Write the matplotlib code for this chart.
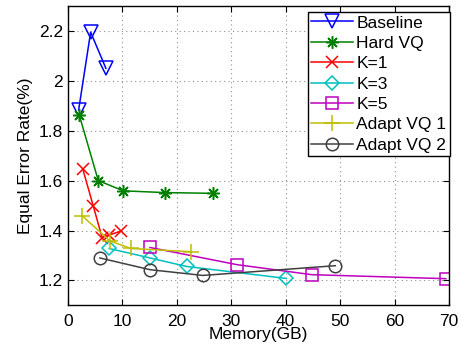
import matplotlib
matplotlib.use("Agg")
from matplotlib import pyplot as plt

# Data (memory in GB, equal error rate in %)
baseline_x = [2.0, 4.2, 7.0]
baseline_y = [1.883, 2.195, 2.05]

hardvq_x = [2.1, 5.6, 10.2, 17.8, 26.6]
hardvq_y = [1.864, 1.600, 1.559, 1.552, 1.549]

k1_x = [2.75, 4.7, 6.3, 7.6, 9.7]
k1_y = [1.647, 1.497, 1.372, 1.382, 1.397]

k3_x = [7.6, 15.1, 21.8, 40.1]
k3_y = [1.328, 1.290, 1.256, 1.208]

k5_x = [15.1, 31.1, 44.8, 69.4]
k5_y = [1.332, 1.263, 1.223, 1.207]

adapt1_x = [2.6, 7.75, 11.6, 22.7]
adapt1_y = [1.460, 1.358, 1.328, 1.315]

adapt2_x = [5.9, 15.1, 24.8, 49.1]
adapt2_y = [1.290, 1.243, 1.220, 1.259]

plt.rcParams['font.family'] = ['Liberation Sans', 'DejaVu Sans']
plt.rcParams['font.size'] = 12.5

fig = plt.figure(figsize=(4.64, 3.49), dpi=100)
ax = fig.add_axes([0.146, 0.125, 0.822, 0.858])

style = dict(linewidth=1.1, markerfacecolor='none', markeredgewidth=1.1)
ax.plot(baseline_x, baseline_y, color='#0000ff', marker='v', markersize=10, label='Baseline', **style)
ax.plot(hardvq_x, hardvq_y, color='#008000', marker=(8, 2, 0), markersize=9, label='Hard VQ', **style)
ax.plot(k1_x, k1_y, color='#ff0000', marker='x', markersize=8, label='K=1', **style)
ax.plot(k3_x, k3_y, color='#00bfbf', marker='D', markersize=7, label='K=3', **style)
ax.plot(k5_x, k5_y, color='#bf00bf', marker='s', markersize=8, label='K=5', **style)
ax.plot(adapt1_x, adapt1_y, color='#bfbf00', marker='+', markersize=11, label='Adapt VQ 1', **style)
ax.plot(adapt2_x, adapt2_y, color='#404040', marker='o', markersize=9, label='Adapt VQ 2', **style)

ax.set_xlim(0, 70)
ax.set_ylim(1.1, 2.3)
ax.set_xticks(range(0, 71, 10))
ax.set_yticks([1.2, 1.4, 1.6, 1.8, 2.0, 2.2])
ax.set_yticklabels(['1.2', '1.4', '1.6', '1.8', '2', '2.2'])
ax.tick_params(direction='in', top=True, right=True, length=4, labelsize=12.5)
ax.tick_params(axis='x', pad=6)
ax.grid(True, linestyle=(0, (1, 3)), color='#909090', linewidth=0.8)
for sp in ax.spines.values():
    sp.set_linewidth(1.0)

ax.set_xlabel('Memory(GB)', fontsize=12.5, labelpad=-1)
ax.set_ylabel('Equal Error Rate(%)', fontsize=12.5, labelpad=4)

leg = ax.legend(loc='upper right', bbox_to_anchor=(1.002, 0.98), fontsize=12.5,
                fancybox=False, framealpha=1, edgecolor='black',
                handlelength=2.4, handletextpad=0.2, labelspacing=0.3,
                borderpad=0.2, borderaxespad=0.0)
leg.get_frame().set_linewidth(1.0)

fig.savefig('out.png', dpi=100)
